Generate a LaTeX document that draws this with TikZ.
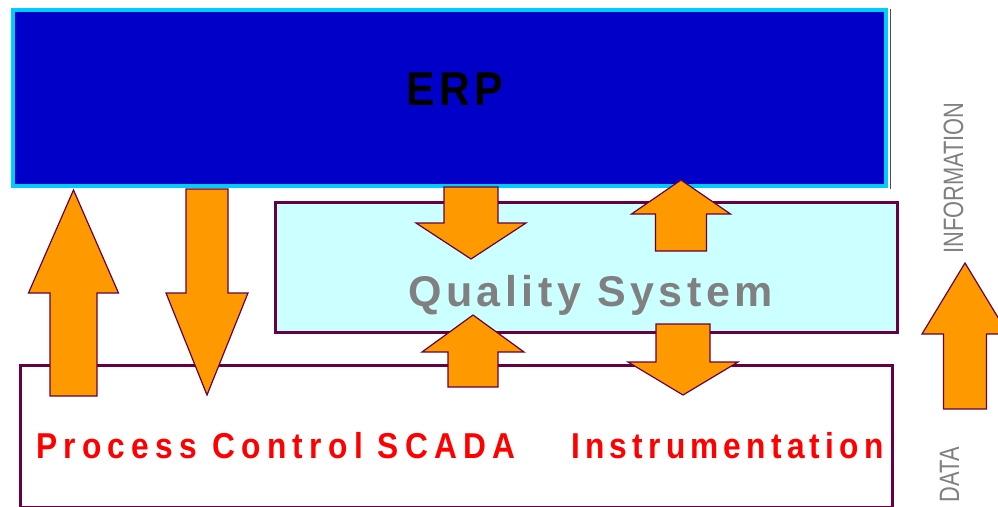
\documentclass[tikz,border=0pt]{standalone}
\usepackage{fontspec}
\setmainfont{Liberation Sans}
\newfontfamily\erpfont[FakeStretch=0.9, LetterSpace=9]{Liberation Sans}
\newfontfamily\qsfont[LetterSpace=10.5]{Liberation Sans}
\newfontfamily\scadafont[FakeStretch=0.88, LetterSpace=17.5]{Liberation Sans}
\newfontfamily\instfont[FakeStretch=0.88, LetterSpace=14.5]{Liberation Sans}
\newfontfamily\narrowfont[FakeStretch=0.78]{Liberation Sans}
\usetikzlibrary{positioning, calc}

\definecolor{erpblue}{RGB}{0,0,200}
\definecolor{erpcyan}{RGB}{0,204,255}
\definecolor{qsfill}{RGB}{204,255,255}
\definecolor{boxline}{RGB}{102,0,68}
\definecolor{arroworange}{RGB}{255,153,0}
\definecolor{labelgray}{RGB}{128,128,128}

\begin{document}
\begin{tikzpicture}[x=1pt, y=-1pt]
	% 定义样式
	\tikzset{
		erpbox/.style={draw=erpcyan, fill=erpblue, line width=3.5pt, inner sep=0pt},
		qsbox/.style={draw=boxline, fill=qsfill, line width=3pt, inner sep=0pt},
		basebox/.style={draw=boxline, fill=white, line width=3pt, inner sep=0pt},
		bigarrow/.style={draw=boxline, fill=arroworange, line width=1.2pt, line join=miter},
		boxtext/.style={anchor=base, inner sep=0pt},
		sidelabel/.style={text=labelgray, font=\narrowfont\fontsize{28}{28}\selectfont,
			rotate=90, anchor=base, inner sep=0pt}
	}
	\useasboundingbox (0,0) rectangle (998,506);
	
	% 三层方框
	\node[erpbox, minimum width=873pt, minimum height=176pt] (erp) at (449.5,98) {};
	\draw[gray!60!black, line width=1pt] ($(erp.north east)+(2.5,1)$) -- ($(erp.south east)+(2.5,1)$);
	\node[qsbox, minimum width=622pt, minimum height=130pt] (qs) at (586.5,267.5) {};
	\node[basebox, minimum width=872pt, minimum height=141.5pt] (base) at (456.5,436.25) {};
	
	% 方框中的文字
	\node[boxtext, font=\erpfont\bfseries\fontsize{47.5}{50}\selectfont] (erptext) at (454.5,105) {ERP};
	\node[boxtext, text=labelgray, font=\qsfont\bfseries\fontsize{43}{46}\selectfont] (qstext) at (590.5,306) {Quality System};
	\node[boxtext, text=red, font=\scadafont\bfseries\fontsize{36}{40}\selectfont] (pctext) at (276,458) {Process Control SCADA};
	\node[boxtext, text=red, font=\instfont\bfseries\fontsize{36}{40}\selectfont] (instext) at (727.5,458) {Instrumentation};
	
	% 块状箭头: 中心x / 尾部y / 箭头底y / 尖端y / 箭杆半宽 / 箭头半宽
	\foreach \x/\ya/\yb/\yc/\s/\h in {73.5/396/293/190/23.5/45, 207/189/293/395/21/41,
		471/187/223/259/27/55, 473/387/352/315/25/51, 681/251/214/180/25.5/49.5,
		683/324/362/395/27/55, 965/409/334/263/21.5/43} {
		\draw[bigarrow] (\x-\s,\ya) -- (\x-\s,\yb) -- (\x-\h,\yb) -- (\x,\yc)
			-- (\x+\h,\yb) -- (\x+\s,\yb) -- (\x+\s,\ya) -- cycle;
	}
	
	% 右侧竖排标签
	\node[sidelabel] (info) at (963,178) {INFORMATION};
	\node[sidelabel] (data) at (959,474.5) {DATA};
\end{tikzpicture}
\end{document}
